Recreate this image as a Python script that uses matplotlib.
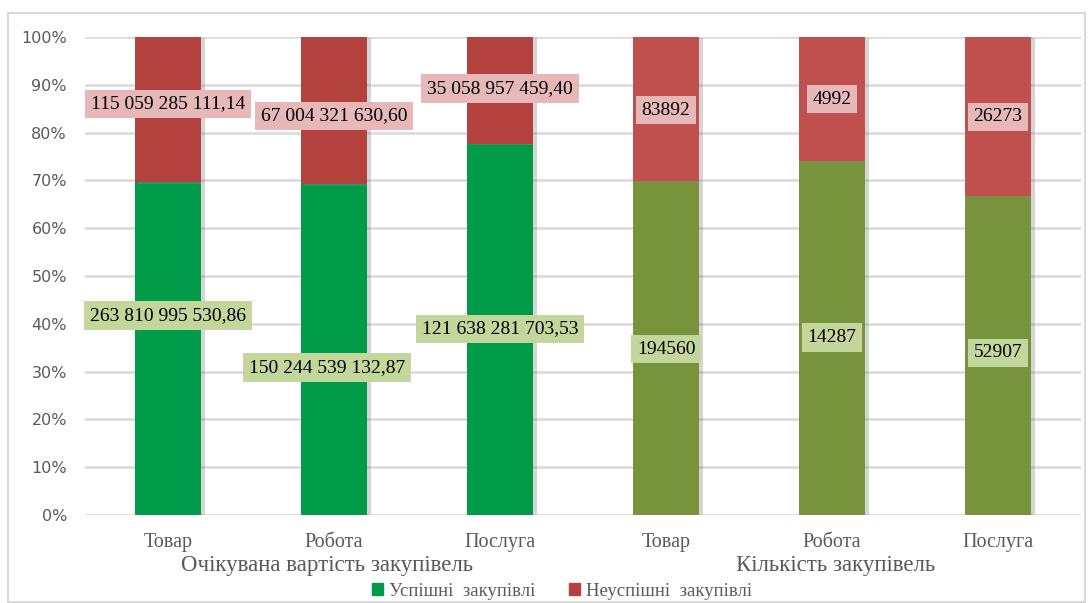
import matplotlib.pyplot as plt
import matplotlib.patheffects as pe
from matplotlib.patches import Rectangle
import numpy as np

# Data
categories = ['Товар', 'Робота', 'Послуга']
group_names = ['Очікувана вартість закупівель', 'Кількість закупівель']
series_names = ['Успішні  закупівлі', 'Неуспішні  закупівлі']

value_success = [263810995530.86, 150244539132.87, 121638281703.53]
value_fail = [115059285111.14, 67004321630.60, 35058957459.40]
count_success = [194560, 14287, 52907]
count_fail = [83892, 4992, 26273]

# label placement (fraction of bar height)
success_label_y = [0.418, 0.308, 0.389, 0.347, 0.372, 0.339]
fail_label_y = [0.860, 0.835, 0.893, 0.847, 0.870, 0.833]
success_label_dx = [0.0, -0.04, 0.0, 0.0, 0.0, 0.0]
group_label_x = [0.96, 4.02]

# Colours
c_succ = ['#009B48'] * 3 + ['#77933C'] * 3
c_fail = ['#B3413E'] * 3 + ['#C0504D'] * 3
box_succ = '#C3D69B'
box_fail = '#E6B9B8'
grey = '#595959'


def fmt_money(v):
    return f"{v:,.2f}".replace(',', ' ').replace('.', ',')


succ = np.array(value_success + count_success, dtype=float)
fail = np.array(value_fail + count_fail, dtype=float)
total = succ + fail
succ_share = succ / total
fail_share = fail / total

succ_text = [fmt_money(v) for v in value_success] + [str(v) for v in count_success]
fail_text = [fmt_money(v) for v in value_fail] + [str(v) for v in count_fail]

fig = plt.figure(figsize=(10.91, 6.03), dpi=100)
ax = fig.add_axes([0.0779, 0.1459, 0.9129, 0.7927])

# outer chart frame
fig.patches.append(Rectangle((8 / 1091, 0.002), 1077 / 1091, 1 - 13 / 603 - 0.002,
                             transform=fig.transFigure, fill=False,
                             edgecolor='#D9D9D9', linewidth=1.5))

x = np.arange(6)
shadow = [pe.SimplePatchShadow(offset=(2.5, -1), shadow_rgbFace='#888888', alpha=0.35), pe.Normal()]
b1 = ax.bar(x, succ_share, width=0.4, color=c_succ, zorder=3)
b2 = ax.bar(x, fail_share, width=0.4, bottom=succ_share, color=c_fail, zorder=3)
for b in list(b1) + list(b2):
    b.set_path_effects(shadow)

for i in range(6):
    ax.text(x[i] + success_label_dx[i], success_label_y[i], succ_text[i], ha='center', va='center',
            fontsize=14, family='Liberation Serif', color='black', zorder=5,
            bbox=dict(boxstyle='square,pad=0.3', facecolor=box_succ, edgecolor='none'))
    ax.text(x[i], fail_label_y[i], fail_text[i], ha='center', va='center',
            fontsize=14, family='Liberation Serif', color='black', zorder=5,
            bbox=dict(boxstyle='square,pad=0.3', facecolor=box_fail, edgecolor='none'))

ax.set_xlim(-0.5, 5.5)
ax.set_ylim(0, 1)
ax.set_yticks(np.arange(0, 1.01, 0.1))
ax.set_yticklabels([f"{int(round(t * 100))}%" for t in np.arange(0, 1.01, 0.1)],
                   fontsize=11.5, color=grey, family='DejaVu Sans')
ax.set_xticks(x)
ax.set_xticklabels(categories * 2, fontsize=14.5, color=grey, family='Liberation Serif')
ax.tick_params(axis='both', length=0)
ax.tick_params(axis='y', pad=13)
ax.tick_params(axis='x', pad=13)
ax.yaxis.grid(True, color='#D9D9D9', linewidth=1.8, zorder=0)
ax.set_axisbelow(True)
for s in ax.spines.values():
    s.set_visible(False)

# group labels
for g, name in enumerate(group_names):
    ax.text(group_label_x[g], -0.106, name, transform=ax.get_xaxis_transform(),
            ha='center', va='center', fontsize=16.5, color=grey, family='Liberation Serif')

# legend
handles = [Rectangle((0, 0), 1, 1, color=c_succ[0]), Rectangle((0, 0), 1, 1, color=c_fail[0])]
fig.legend(handles, series_names, loc='center', bbox_to_anchor=(0.515, 1 - 591 / 603), ncol=2,
           frameon=False, prop={'family': 'Liberation Serif', 'size': 13.5},
           labelcolor=grey, handlelength=0.6, handleheight=0.6, handletextpad=0.3,
           columnspacing=1.8)

fig.savefig('out.png', dpi=100)
